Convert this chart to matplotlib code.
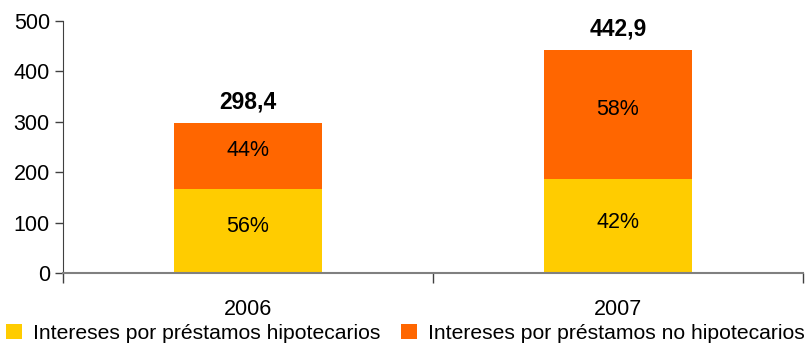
import numpy as np
import matplotlib.pyplot as plt

plt.rcParams['font.family'] = ['Liberation Sans', 'DejaVu Sans']

# Datos
years = ['2006', '2007']
hipotecarios = [166.0, 185.5]
no_hipotecarios = [132.4, 257.4]
totales = ['298,4', '442,9']
pct_hip = ['56%', '42%']
pct_nohip = ['44%', '58%']
series = ['Intereses por préstamos hipotecarios',
          'Intereses por préstamos no hipotecarios']
colores = ['#FFCC00', '#FF6600']

fig = plt.figure(figsize=(8.11, 3.47), dpi=100)
ax = fig.add_axes([0.0777, 0.2133, 0.9123, 0.7262])

x = np.arange(len(years))
hip = np.array(hipotecarios)
nohip = np.array(no_hipotecarios)
ax.bar(x, hip, width=0.4, color=colores[0], label=series[0])
ax.bar(x, nohip, width=0.4, bottom=hip, color=colores[1], label=series[1])

for i in range(len(years)):
    ax.annotate(pct_hip[i], (x[i], hip[i] / 2), xytext=(0, 3),
                textcoords='offset points', ha='center', va='center',
                fontsize=15.5)
    ax.annotate(pct_nohip[i], (x[i], hip[i] + nohip[i] / 2), xytext=(0, 4),
                textcoords='offset points', ha='center', va='center',
                fontsize=15.5)
    ax.text(x[i], hip[i] + nohip[i] + 18, totales[i], ha='center',
            va='bottom', fontsize=16.5, fontweight='bold')

ax.set_xlim(-0.5, 1.5)
ax.set_ylim(0, 500)
ax.set_yticks(np.arange(0, 501, 100))
ax.set_xticks(x)
ax.set_xticklabels(years)
ax.set_xticks([-0.5, 0.5, 1.5], minor=True)
ax.tick_params(axis='x', which='major', length=0, pad=19, labelsize=15.5)
ax.tick_params(axis='x', which='minor', length=7, width=1, color='#404040',
               direction='out')
ax.tick_params(axis='y', length=6, width=1, color='#404040', labelsize=15.5)

for s in ['top', 'right']:
    ax.spines[s].set_visible(False)
ax.spines['left'].set_color('#404040')
ax.spines['bottom'].set_color('#808080')
ax.spines['bottom'].set_linewidth(1.5)

ax.legend(loc='lower left', bbox_to_anchor=(-0.088, -0.31), ncol=2,
          frameon=False, fontsize=15.2, handlelength=0.75, handleheight=0.75,
          handletextpad=0.5, columnspacing=1.0, borderaxespad=0)

fig.savefig('out.png', dpi=100)
